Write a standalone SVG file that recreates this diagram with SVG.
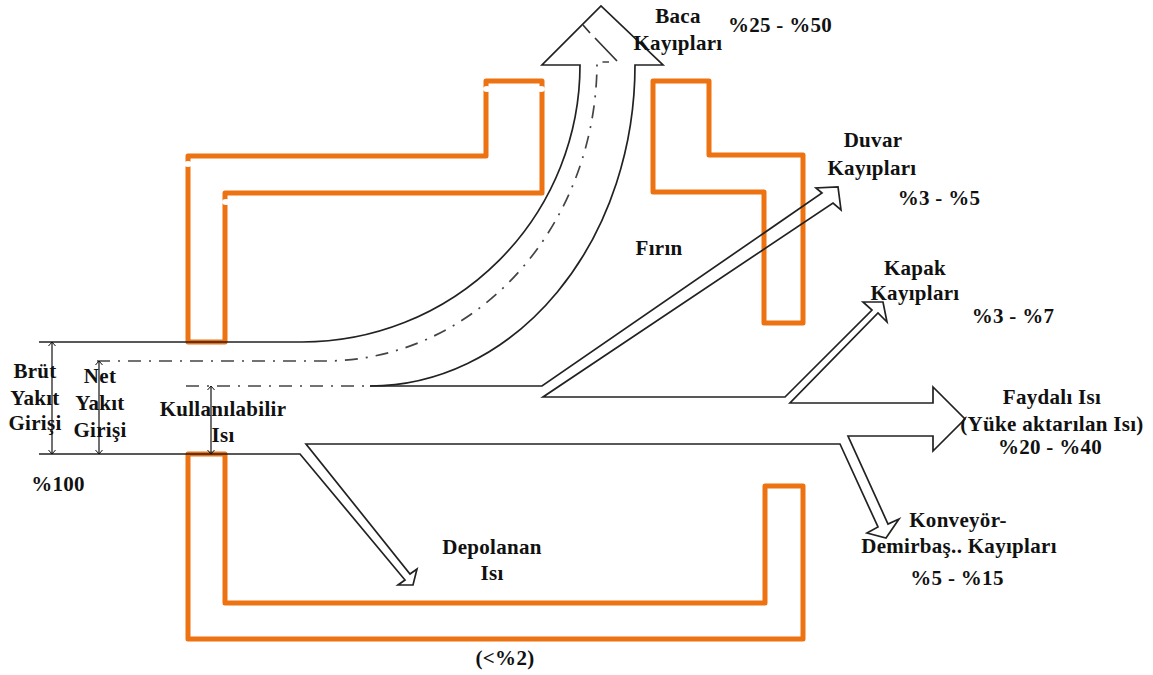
<svg xmlns="http://www.w3.org/2000/svg" width="1153" height="675" viewBox="0 0 1153 675">
<style>
.o{fill:none;stroke:#ED7211;stroke-width:5;stroke-linejoin:round}
.l{fill:none;stroke:#222;stroke-width:1.7}
.d{fill:none;stroke:#444;stroke-width:1.7;stroke-dasharray:13 8 2 8}
.a{fill:none;stroke:#111;stroke-width:1.2;marker-start:url(#m);marker-end:url(#m)}
.n{fill:#fff;stroke:none}
text{font-family:"Liberation Serif","Times New Roman",serif;font-weight:bold;font-size:21px;letter-spacing:.3px;fill:#111;text-anchor:middle}
</style>
<defs>
<marker id="m" markerWidth="10" markerHeight="10" refX="9" refY="5" orient="auto-start-reverse" markerUnits="userSpaceOnUse"><path d="M5 1.5L9 5L5 8.5" fill="none" stroke="#111" stroke-width="1"/></marker>
</defs>
<g id="furnace-top"><path class="o" d="M188 342V156H486V81H542V193H225V342Z"/><ellipse class="n" cx="188" cy="164" rx="4" ry="3"/><ellipse class="n" cx="226" cy="202" rx="4" ry="3"/><ellipse class="n" cx="487" cy="89" rx="4" ry="3"/><ellipse class="n" cx="541" cy="89" rx="4" ry="3"/></g>
<g id="furnace-right"><path class="o" d="M653 81H709V155H803V323H764V192H653Z"/></g>
<g id="furnace-bottom"><path class="o" d="M188 454H225V603H765V486H803V639H188Z"/></g>
<g id="connectors">
<path class="l" d="M39 342H302A278 277 0 0 0 580 65H542L601 6L663 65H635A265 321 0 0 1 370 386"/>
<path class="l" d="M370 386H542L822 193L816 188L838 187L841 210L833 203L543 397H785L872 310L863 302H883L887 322L878 313L790 403H933V387L965 419L933 451V436H848L888 524L899 519L886 538L867 533L878 527L840 444H306L410 574L417 569L413 585H398L405 580L300 454H39"/>
<path class="d" d="M97 361H325A272 299 0 0 0 597 62H609"/>
<path class="l" style="stroke:#333" d="M583 25L590 33M595 38L617 61"/>
<path class="d" d="M186 386H370"/>
<path class="a" d="M52 342V454"/><path class="a" d="M99 361V454"/><path class="a" d="M211 386V454"/>
</g>
<g id="labels">
<text x="678" y="23">Baca</text><text x="678" y="50">Kayıpları</text><text x="780" y="32">%25 - %50</text>
<text x="873" y="147">Duvar</text><text x="872" y="175">Kayıpları</text><text x="939" y="205">%3 - %5</text>
<text x="659" y="255">Fırın</text>
<text x="915" y="275">Kapak</text><text x="915" y="300">Kayıpları</text><text x="1013" y="323">%3 - %7</text>
<text x="1052" y="404">Faydalı Isı</text><text x="1052" y="431">(Yüke aktarılan Isı)</text><text x="1050" y="454">%20 - %40</text>
<text x="958" y="527">Konveyör-</text><text x="959" y="553">Demirbaş.. Kayıpları</text><text x="957" y="585">%5 - %15</text>
<text x="492" y="554">Depolanan</text><text x="492" y="580">Isı</text><text x="505" y="665">(&lt;%2)</text>
<text x="35" y="378">Brüt</text><text x="35" y="405">Yakıt</text><text x="35" y="430">Girişi</text><text x="58" y="491">%100</text>
<text x="100" y="383">Net</text><text x="100" y="410">Yakıt</text><text x="100" y="437">Girişi</text>
<text x="223" y="416">Kullanılabilir</text><text x="223" y="442">Isı</text>
</g>
</svg>
